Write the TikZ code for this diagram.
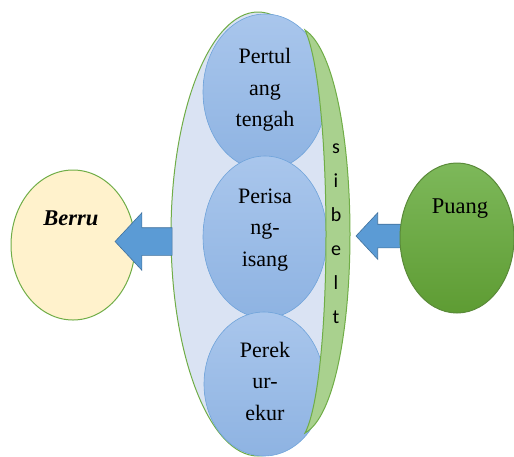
\documentclass[tikz,border=0pt]{standalone}
\usepackage{fontspec}
\setmainfont{Liberation Serif}
\newfontfamily\sibeltfont{Carlito}
\usetikzlibrary{shapes.geometric}
\usetikzlibrary{shapes.arrows}
\usetikzlibrary{positioning}

\definecolor{bigfill}{HTML}{DAE3F3}
\definecolor{leafgreen}{HTML}{70AD47}
\definecolor{beltfill}{HTML}{A9D18E}
\definecolor{berrufill}{HTML}{FFF2CC}
\definecolor{blobtop}{HTML}{A9C6EC}
\definecolor{blobbot}{HTML}{8EB3E2}
\definecolor{blobline}{HTML}{6FA3DA}
\definecolor{puangtop}{HTML}{7DB85A}
\definecolor{puangbot}{HTML}{5E9C33}
\definecolor{arrowfill}{HTML}{5B9BD5}
\definecolor{arrowline}{HTML}{41719C}

\tikzset{
  oval/.style={ellipse, inner sep=0pt, line width=1pt},
  blob/.style={ellipse, inner sep=0pt, draw=blobline, line width=0.6pt,
               top color=blobtop, bottom color=blobbot},
  blobtext/.style={align=center, inner sep=0pt,
                   font=\fontsize{22}{31.5}\selectfont},
  blockarrow/.style={single arrow, shape border rotate=180, inner xsep=0pt,
                     single arrow tip angle=94, fill=arrowfill,
                     draw=arrowline, line width=0.6pt}
}

\begin{document}
\begin{tikzpicture}[x=1pt,y=-1pt]
	\useasboundingbox (0,0) rectangle (514,456);

	\node[oval, draw=leafgreen, fill=berrufill,
	      minimum width=124pt, minimum height=150pt] (berru) at (73,245) {};
	\node[font=\fontsize{22.5}{27}\selectfont\bfseries\itshape] (berrutxt)
	      at (71,218) {Berru};

	\node[oval, draw=leafgreen, fill=bigfill,
	      minimum width=174pt, minimum height=444pt] (wadah) at (258,234) {};

	\begin{scope}[every node/.style={blob}]
		\node[minimum width=124pt, minimum height=156pt] (tulang) at (265,92) {};
		\node[minimum width=124pt, minimum height=162pt] (isang) at (265,237) {};
		\node[minimum width=120pt, minimum height=144pt] (ekur) at (264,384) {};
	\end{scope}

	\begin{scope}[every node/.style={blobtext}]
		\node (tulangtxt) at (265,90) {Pertul\\ang\\tengah};
		\node (isangtxt) at (265,230) {Perisa\\ng-\\isang};
		\node (ekurtxt) at (265,381) {Perek\\ur-\\ekur};
	\end{scope}

	\draw[leafgreen, fill=beltfill, line width=1pt]
	      (305,30) .. controls (365,70) and (365,400) .. (305,433)
	      .. controls (333,380) and (333,90) .. (305,30) -- cycle;
	\coordinate (sibelt) at (353,236);
	\node[font=\sibeltfont\fontsize{20}{34}\selectfont, align=center,
	      inner sep=0pt] (sibelttxt) at (336,234) {s\\i\\b\\e\\l\\t};

	\node[blockarrow, minimum height=57pt, inner ysep=13.5pt,
	      single arrow head extend=15pt] (keberru) at (150,241.5) {};

	\node[blockarrow, minimum height=47pt, inner ysep=11.5pt,
	      single arrow head extend=11.5pt] (kesibelt) at (385,236) {};

	\node[oval, draw=leafgreen!80!black, top color=puangtop, bottom color=puangbot,
	      minimum width=114pt, minimum height=150pt] (puang) at (457,238) {};
	\node[font=\fontsize{22.5}{27}\selectfont] (puangtxt) at (460,209) {Puang};
\end{tikzpicture}
\end{document}
